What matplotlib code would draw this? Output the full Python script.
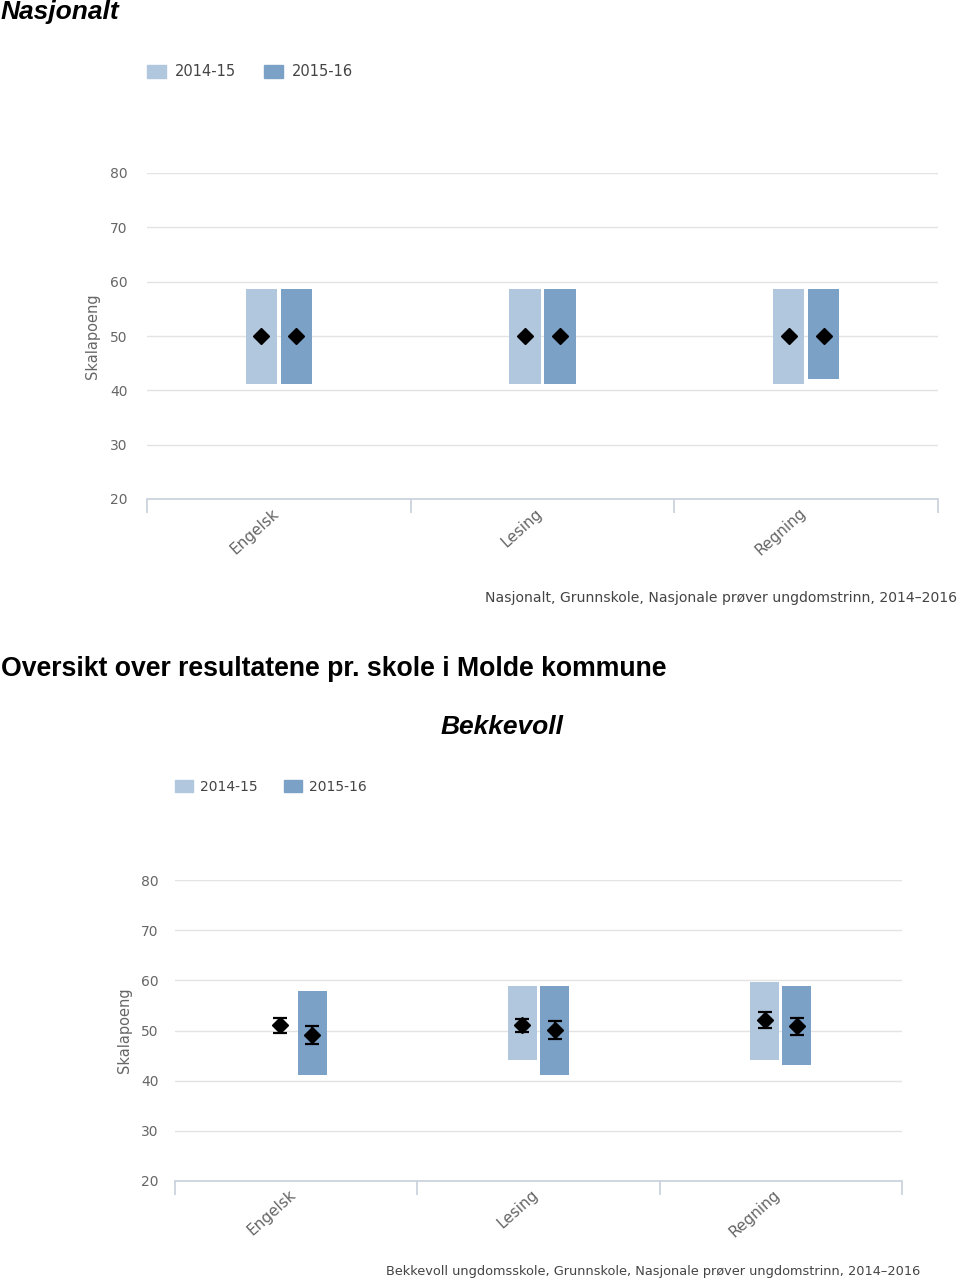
import numpy as np
import matplotlib
matplotlib.use("Agg")
from matplotlib import pyplot as plt
from matplotlib.patches import Patch

categories = ["Engelsk", "Lesing", "Regning"]
years = ["2014-15", "2015-16"]
yticks = [20, 30, 40, 50, 60, 70, 80]

# national: bar range and mean per year
nat_low = [[41.2, 41.2, 41.2], [41.2, 41.2, 42.1]]
nat_high = [[58.7, 58.7, 58.7], [58.7, 58.7, 58.7]]
nat_mean = [[50.0, 50.0, 50.0], [50.0, 50.0, 50.0]]

# Bekkevoll: bar range (None = no bar), mean and error margin
sch_low = [[None, 44.1, 44.1], [41.1, 41.1, 43.1]]
sch_high = [[None, 58.8, 59.6], [57.8, 58.8, 58.8]]
sch_mean = [[51.0, 51.0, 52.1], [49.1, 50.1, 50.8]]
sch_err = [[1.5, 1.3, 1.6], [1.8, 1.8, 1.6]]

colors = ["#b0c7de", "#7ca1c7"]
grid_col = "#e3e3e3"
axis_col = "#c8d0da"
label_col = "#666666"
font = ["DejaVu Sans"]


def draw_chart(ax, low, high, mean, err, width, off, ypad, ylpad):
    x = np.arange(len(categories))
    for i in range(len(years)):
        pos = x + (i - 0.5) * off
        for j in range(len(categories)):
            if low[i][j] is not None:
                ax.bar(pos[j], high[i][j] - low[i][j], bottom=low[i][j],
                       width=width, color=colors[i], zorder=2)
        if err is None:
            ax.plot(pos, mean[i], "D", color="black", markersize=8, zorder=3)
        else:
            ax.errorbar(pos, mean[i], yerr=err[i], fmt="D", color="black",
                        markersize=8, capsize=5, elinewidth=1.6,
                        capthick=1.6, zorder=3)
    ax.set_xlim(-0.5, len(categories) - 0.5)
    ax.set_ylim(20, 80)
    ax.set_yticks(yticks)
    for t in yticks[1:]:
        ax.axhline(t, color=grid_col, lw=1, zorder=1)
    for s in ["top", "right", "left"]:
        ax.spines[s].set_visible(False)
    ax.spines["bottom"].set_color(axis_col)
    ax.spines["bottom"].set_linewidth(1.2)
    ax.tick_params(axis="y", length=0, pad=ypad, labelsize=10, labelcolor=label_col)
    ax.set_xticks(np.arange(-0.5, len(categories)))
    ax.set_xticklabels([])
    ax.tick_params(axis="x", length=10, color=axis_col, width=1.2)
    for j, c in enumerate(categories):
        ax.text(j + 0.01, 18.8, c, rotation=42, ha="right", va="top",
                rotation_mode="default", fontsize=11, color=label_col, family=font)
    ax.set_ylabel("Skalapoeng", fontsize=10.5, color=label_col, labelpad=ylpad)


fig = plt.figure(figsize=(9.6, 12.88), dpi=100)

ax1 = fig.add_axes([147 / 960, 1 - 499 / 1288, (938 - 147) / 960, (499 - 173) / 1288])
draw_chart(ax1, nat_low, nat_high, nat_mean, None, 0.118, 0.133, 14, 7)
fig.text(957 / 960, 1 - 598 / 1288,
         "Nasjonalt, Grunnskole, Nasjonale prøver ungdomstrinn, 2014–2016",
         ha="right", va="center", fontsize=10.1, color="#444444")

ax2 = fig.add_axes([175 / 960, 1 - 1181 / 1288, (902 - 175) / 960, (1181 - 880) / 1288])
draw_chart(ax2, sch_low, sch_high, sch_mean, sch_err, 0.12, 0.133, 12, 6)
fig.text(920 / 960, 1 - 1272 / 1288,
         "Bekkevoll ungdomsskole, Grunnskole, Nasjonale prøver ungdomstrinn, 2014–2016",
         ha="right", va="center", fontsize=9.3, color="#444444")

handles = [Patch(color=colors[i], label=years[i]) for i in range(len(years))]
fig.legend(handles=handles, loc="center left", bbox_to_anchor=(140 / 960, 1 - 72 / 1288),
           ncol=2, frameon=False, fontsize=10.5, handlelength=1.3, handleheight=1.0,
           handletextpad=0.6, columnspacing=1.9, labelcolor="#444444",
           borderpad=0.2, borderaxespad=0.3)
fig.legend(handles=handles, loc="center left", bbox_to_anchor=(168 / 960, 1 - 787 / 1288),
           ncol=2, frameon=False, fontsize=10, handlelength=1.3, handleheight=1.0,
           handletextpad=0.5, columnspacing=1.9, labelcolor="#444444",
           borderpad=0.2, borderaxespad=0.3)

fig.text(1 / 960, 1 - 12 / 1288, "Nasjonalt", fontsize=19, weight="bold",
         style="italic", family="Liberation Sans", va="center", ha="left")
fig.text(1 / 960, 1 - 669 / 1288, "Oversikt over resultatene pr. skole i Molde kommune",
         fontsize=19.2, weight="bold", family="Liberation Sans", va="center", ha="left")
fig.text(502 / 960, 1 - 727 / 1288, "Bekkevoll", fontsize=19, weight="bold",
         style="italic", family="Liberation Sans", va="center", ha="center")

fig.savefig("out.png", dpi=100)
